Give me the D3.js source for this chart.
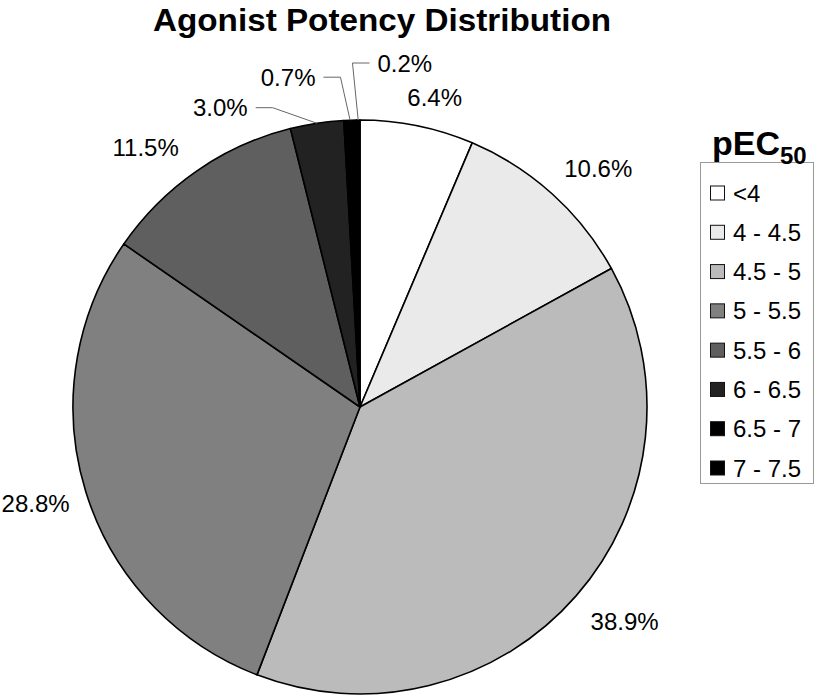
<!DOCTYPE html>
<html>
<head>
<meta charset="utf-8">
<script src="https://cdn.jsdelivr.net/npm/d3@7"></script>
<style>
  body { margin: 0; background: #fff; }
  svg { display: block; font-family: "Liberation Sans", Arial, sans-serif; }
</style>
</head>
<body>
<div class="chart"></div>
<script>
// 資料
const categories = ['<4', '4 - 4.5', '4.5 - 5', '5 - 5.5', '5.5 - 6', '6 - 6.5', '6.5 - 7', '7 - 7.5'];
const shares = [6.4, 10.6, 38.9, 28.8, 11.5, 3.0, 0.7, 0.2];
const labels = ['6.4%', '10.6%', '38.9%', '28.8%', '11.5%', '3.0%', '0.7%', '0.2%'];
const greys = ['#ffffff', '#eaeaea', '#bbbbbb', '#808080', '#5f5f5f', '#222222', '#000000', '#000000'];

// 標籤微調 (px)，小扇形另外拉引線
const nudge = [[6, 10], [3, 3], [0, 0], [11, 0], [-15, 8], [-88, 23], [-60, -4], [47, -18]];
const leader = [false, false, false, false, false, true, true, true];

const W = 820, H = 697;
const cx = 360, cy = 407, R = 287;

const svg = d3.select('.chart').append('svg')
  .attr('width', W)
  .attr('height', H);

// 標題
svg.append('text')
  .text('Agonist Potency Distribution')
  .attr('x', 382)
  .attr('y', 31)
  .attr('text-anchor', 'middle')
  .attr('font-size', 32)
  .attr('font-weight', 'bold')
  .attr('textLength', 458)
  .attr('lengthAdjust', 'spacingAndGlyphs');

const color = d3.scaleOrdinal().domain(categories).range(greys);

const pie = d3.pie().sort(null).value(d => d.v);
const arcs = pie(categories.map((c, i) => ({ c: c, v: shares[i], i: i })));
const arc = d3.arc().innerRadius(0).outerRadius(R);

const g = svg.append('g').attr('transform', `translate(${cx},${cy})`);

g.selectAll('path')
  .data(arcs)
  .enter().append('path')
  .attr('d', arc)
  .attr('fill', d => color(d.data.c))
  .attr('stroke', '#000')
  .attr('stroke-width', 1.6)
  .attr('stroke-linejoin', 'round');

// 百分比標籤
const lab = g.selectAll('text.lab')
  .data(arcs)
  .enter().append('text')
  .attr('class', 'lab')
  .text((d, i) => labels[i])
  .attr('font-size', 24)
  .attr('text-anchor', 'middle')
  .attr('dominant-baseline', 'central');

lab.each(function (d, i) {
  const el = d3.select(this);
  const bb = this.getBBox();
  const a = (d.startAngle + d.endAngle) / 2;
  const s = Math.sin(a), c = Math.cos(a);
  const r = R + 30;
  const x = r * s + bb.width / 2 * s + nudge[i][0];
  const y = -r * c - 9 * c + nudge[i][1];
  el.attr('x', x).attr('y', y);

  if (leader[i]) {
    const px = R * s, py = -R * c;
    const dir = x > px ? -1 : 1;            // 線往扇形那邊走
    const x0 = x + dir * (bb.width / 2 + 8);
    const x1 = x0 + dir * 17;
    g.append('polyline')
      .attr('points', [[x0, y], [x1, y], [px, py]].map(p => p.join(',')).join(' '))
      .attr('fill', 'none')
      .attr('stroke', '#666')
      .attr('stroke-width', 1);
  }
});

// 圖例
const lg = svg.append('g');
lg.append('rect')
  .attr('x', 700.5)
  .attr('y', 162.5)
  .attr('width', 113)
  .attr('height', 321)
  .attr('fill', '#fff')
  .attr('stroke', '#999')
  .attr('stroke-width', 1);

const lt = lg.append('text')
  .attr('x', 712)
  .attr('y', 155)
  .attr('font-size', 34)
  .attr('font-weight', 'bold');
lt.append('tspan').text('pEC');
lt.append('tspan').text('50').attr('font-size', 24).attr('dy', 9);

const ly = d3.scalePoint().domain(categories).range([193, 468]);

const items = lg.selectAll('g.item')
  .data(categories)
  .enter().append('g')
  .attr('class', 'item')
  .attr('transform', d => `translate(710,${ly(d)})`);

items.append('rect')
  .attr('x', 0.5)
  .attr('y', -7)
  .attr('width', 14)
  .attr('height', 14)
  .attr('fill', d => color(d))
  .attr('stroke', '#111')
  .attr('stroke-width', 1);

items.append('text')
  .text(d => d)
  .attr('x', 23)
  .attr('y', 0)
  .attr('dominant-baseline', 'central')
  .attr('font-size', 24);
</script>
</body>
</html>
